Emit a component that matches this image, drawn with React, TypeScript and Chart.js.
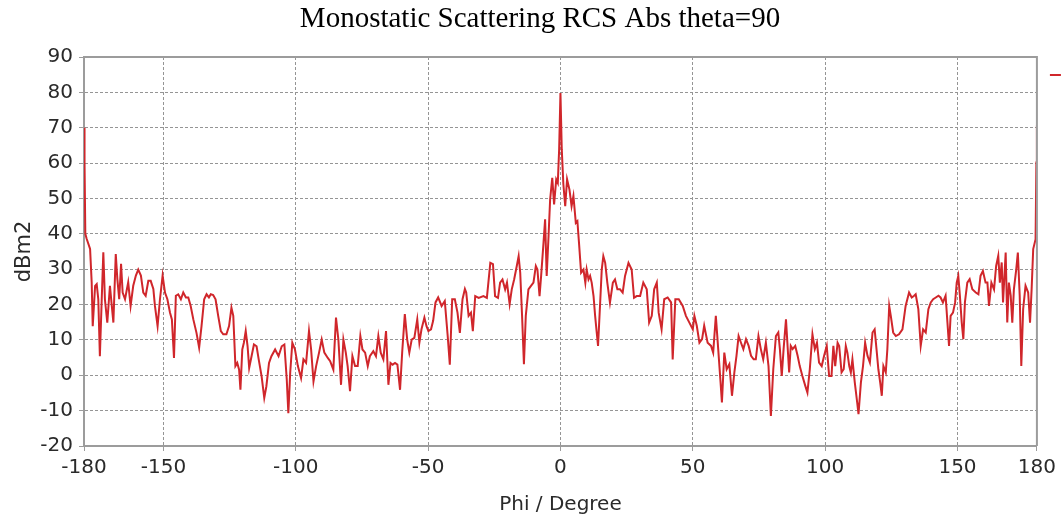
import { useEffect, useRef } from 'react';
import { Chart, registerables } from 'chart.js';

Chart.register(...registerables);

const TITLE = 'Monostatic Scattering RCS Abs theta=90';
const X_LABEL = 'Phi / Degree';
const Y_LABEL = 'dBm2';
const X_TICKS = [-180, -150, -100, -50, 0, 50, 100, 150, 180];
const Y_MIN = -20;
const Y_MAX = 90;
const Y_STEP = 10;
const LINE_COLOR = '#d0262b';

const PHI = [
  -180, -179.8, -179.5, -179.0, -177.7, -177.1, -176.7, -175.8, -175.2, -174.6, -174.0, -173.3, -172.7, -172.1,
  -171.2, -170.2, -169.5, -168.9, -168.0, -167.4, -166.7, -166.0, -165.4, -164.5, -163.3, -162.4, -161.4, -160.4,
  -159.5, -158.5, -157.6, -156.7, -155.7, -154.8, -153.8, -153.2, -152.2, -151.3, -150.3, -149.4, -148.5, -147.5,
  -146.8, -146.0, -145.3, -144.4, -143.4, -142.5, -141.5, -140.6, -139.7, -138.7, -137.5, -136.5, -135.6, -134.6,
  -133.7, -132.8, -132.1, -131.2, -130.3, -129.3, -128.3, -127.4, -126.2, -125.2, -124.3, -123.6, -122.8, -122.1,
  -121.4, -120.9, -120.2, -119.6, -118.9, -118.2, -117.6, -116.7, -115.8, -114.8, -114.0, -112.9, -111.9, -111.1,
  -110.1, -109.2, -107.8, -106.5, -105.3, -104.3, -103.4, -102.8, -102.1, -101.3, -100.3, -99.2, -98.0, -97.1,
  -96.1, -95.0, -94.2, -93.3, -92.3, -91.2, -90.2, -89.2, -87.9, -87.0, -85.8, -84.8, -83.9, -82.9, -82.0, -81.1,
  -80.4, -79.5, -78.6, -77.6, -76.6, -75.6, -74.8, -73.8, -72.8, -72.0, -70.7, -69.7, -68.8, -67.9, -66.9, -65.9,
  -65.0, -64.2, -63.4, -62.5, -61.6, -60.6, -59.8, -58.8, -57.9, -57.1, -56.2, -55.2, -54.1, -53.3, -52.5, -51.4,
  -50.6, -49.9, -48.9, -48.1, -47.2, -46.2, -44.9, -43.7, -42.6, -41.8, -40.9, -39.9, -38.9, -38.0, -37.0, -36.1,
  -35.6, -34.7, -33.8, -33.1, -32.2, -30.9, -29.1, -27.8, -26.5, -25.5, -24.7, -23.6, -22.8, -21.9, -20.9, -20.2,
  -19.2, -18.4, -17.5, -16.5, -15.8, -15.2, -14.5, -13.8, -13.1, -12.1, -11.2, -10.2, -9.3, -8.7, -7.9, -7.3,
  -6.4, -5.8, -5.2, -4.5, -3.9, -3.1, -2.4, -1.6, -1.0, -0.5, 0, 0.5, 1.1, 1.8, 2.5, 3.4, 4.2, 4.9, 5.8, 6.4,
  7.0, 7.8, 8.7, 9.4, 9.9, 10.6, 11.2, 11.8, 12.5, 13.1, 13.7, 14.2, 15.0, 15.6, 16.2, 16.9, 17.7, 18.7, 19.8,
  20.6, 21.5, 22.5, 23.5, 24.4, 25.7, 26.9, 27.8, 28.8, 30.1, 31.3, 32.6, 33.5, 34.5, 35.4, 36.4, 37.1, 38.2,
  39.2, 40.5, 41.8, 42.4, 43.4, 44.7, 46.2, 47.4, 48.7, 50.0, 50.6, 51.5, 52.5, 53.5, 54.3, 55.6, 56.9, 57.7,
  58.7, 59.6, 60.4, 61.0, 61.9, 62.8, 63.8, 64.8, 65.7, 66.5, 67.3, 68.2, 69.1, 70.1, 71.1, 72.0, 73.0, 73.8,
  74.8, 75.7, 76.6, 77.6, 78.6, 79.5, 80.4, 81.4, 82.3, 82.9, 83.6, 84.3, 85.2, 86.4, 87.0, 87.7, 88.7, 89.6,
  90.4, 91.4, 92.5, 93.3, 94.2, 95.2, 96.1, 96.9, 97.7, 98.7, 99.6, 100.6, 101.5, 102.4, 103.1, 103.8, 104.7,
  105.3, 106.2, 107.0, 107.8, 108.4, 109.1, 109.7, 110.3, 111.2, 112.1, 112.6, 113.5, 114.3, 115.1, 116.0,
  116.9, 117.9, 118.7, 119.4, 120.1, 120.8, 121.4, 122.0, 122.9, 123.5, 124.2, 124.8, 125.7, 126.7, 127.9,
  129.2, 130.4, 131.7, 132.7, 133.6, 134.2, 135.2, 136.1, 137.0, 138.0, 139.0, 139.9, 140.8, 141.8, 142.8,
  143.6, 144.5, 145.5, 146.2, 146.8, 147.4, 148.3, 149.1, 149.7, 150.3, 150.9, 151.6, 152.2, 152.8, 153.7,
  154.6, 155.6, 156.9, 157.9, 158.7, 159.6, 160.6, 161.3, 161.9, 162.8, 163.8, 164.6, 165.4, 166.0, 166.7,
  167.2, 168.2, 168.8, 169.4, 170.1, 170.7, 171.3, 172.2, 172.8, 173.5, 174.1, 174.8, 175.7, 176.7, 177.4,
  178.0, 178.6, 179.5, 179.8, 180,
];

const RCS = [
  70, 60, 40, 38.6, 35.7, 26.3, 13.9, 25.3, 25.8, 21.5, 5.4, 21.5, 34.8, 21.5,
  14.9, 25.3, 19.6, 14.9, 34.3, 27.2, 21.5, 31.5, 23.4, 21.5, 26.3, 19.6, 25.3, 28.2,
  29.9, 28.2, 23.4, 22.5, 26.7, 26.7, 24.4, 19.6, 13.9, 21.5, 28.2, 23.4, 21.5, 17.7,
  15.8, 4.9, 22.5, 22.9, 21.5, 23.4, 22.0, 22.0, 19.6, 15.8, 12.0, 7.8, 13.9, 21.5,
  22.9, 22.0, 22.9, 22.7, 21.5, 16.8, 12.5, 11.6, 11.6, 13.9, 19.1, 16.8, 2.6, 3.5,
  1.6, -4.1, 7.3, 9.2, 12.5, 8.2, 2.1, 5.4, 8.7, 8.2, 4.5, -0.3, -6.4, -3.1,
  3.5, 5.4, 7.3, 5.4, 8.2, 8.7, -1.2, -10.7, 0.7, 9.2, 7.3, 2.6, -0.8, 4.5,
  3.5, 12.5, 7.3, -1.7, 2.6, 6.4, 10.1, 6.4, 4.9, 4.0, 1.6, 16.3, 10.1, -2.7, 10.1, 6.4,
  2.6, -4.5, 5.4, 2.6, 2.6, 11.1, 7.3, 6.4, 2.6, 5.4, 6.8, 5.4, 11.1, 6.4, 4.5, 12.5,
  -2.7, 3.5, 3.0, 3.5, 3.0, -4.1, 6.4, 17.3, 10.1, 6.4, 10.1, 10.6, 15.8, 9.2, 13.0, 16.3,
  13.9, 12.5, 13.0, 15.4, 20.6, 22.0, 19.6, 21.0, 11.1, 3.0, 21.5, 21.5, 17.7, 12.0, 21.5, 24.4,
  23.4, 16.8, 17.7, 12.5, 22.4, 21.9, 22.4, 21.9, 31.8, 31.4, 22.4, 21.9, 26.2, 27.1, 24.3, 26.2,
  20.1, 24.3, 27.1, 30.9, 33.7, 29.0, 16.8, 3.1, 16.8, 24.3, 25.2, 26.2, 30.9, 29.9, 22.4, 28.1,
  37.5, 44.1, 28.1, 39.4, 49.7, 55.8, 48.3, 55.4, 54.4, 63.8, 79.8, 63.8, 54.0, 47.8, 55.4, 52.5, 47.8, 50.7, 43.1, 43.6,
  37.5, 29.0, 29.9, 26.2, 29.9, 27.1, 28.1, 26.2, 22.4, 16.8, 12.1, 8.3, 20.5, 29.9, 33.7, 31.8, 26.2, 20.5, 26.2,
  27.1, 24.3, 24.3, 23.4, 28.1, 31.8, 29.9, 21.9, 22.4, 22.4, 26.2, 24.3, 14.9, 16.8, 24.3, 26.2, 17.7, 13.0,
  21.5, 22.0, 20.6, 4.5, 21.5, 21.5, 19.6, 16.8, 14.9, 13.0, 16.8, 14.0, 9.2, 10.2, 14.0, 9.2, 8.3, 6.4,
  16.8, 7.4, -1.1, -7.7, 6.4, 1.7, 3.1, -5.8, 0.8, 5.5, 11.1, 9.2, 7.4, 10.2, 8.3, 5.5, 4.5, 4.5,
  11.1, 7.4, 4.5, 9.2, 2.6, -11.5, 1.7, 11.1, 12.1, 7.4, -0.2, 7.4, 15.8, 0.8, 8.3, 7.4, 8.3, 5.5,
  2.6, -0.2, -3.0, -4.9, 1.7, 11.6, 7.4, 9.2, 3.6, 2.6, 5.5, 8.3, -0.2, -0.2, 8.3, 2.6, 9.2,
  8.3, 0.8, 1.7, 8.3, 6.4, 2.6, 0.8, 4.5, -2.1, -7.7, -11.0, -2.1, 2.6, 9.2, 5.5,
  3.6, 12.1, 13.0, 7.4, 1.7, -2.1, -5.8, 2.6, 0.8, 7.4, 19.6, 16.8, 12.1, 11.1, 11.6,
  13.0, 19.6, 23.4, 22.0, 22.5, 22.9, 18.7, 8.3, 13.0, 12.1, 18.7, 20.6, 21.5, 22.0, 22.5,
  22.0, 20.6, 22.5, 14.9, 8.3, 16.8, 17.7, 20.6, 26.2, 28.1, 22.5, 14.9, 10.2, 20.6, 26.2,
  27.2, 24.3, 23.4, 22.9, 28.1, 29.5, 26.2, 26.2, 19.6, 26.2, 24.3, 30.9, 33.8, 26.2, 31.9,
  20.6, 34.7, 14.9, 26.2, 22.5, 14.9, 24.3, 30.0, 34.7, 22.5, 2.6, 18.7, 25.3, 23.4, 14.9,
  24.3, 35.7, 38.5, 60.2, 70.6,
];

const SERIES = PHI.map((x, i) => ({ x, y: RCS[i] }));

const framePlugin = {
  id: 'frame',
  afterDraw(chart: any) {
    const { ctx, chartArea: a } = chart;
    ctx.save();
    ctx.strokeStyle = '#9c9c9c';
    ctx.lineWidth = 2;
    ctx.beginPath();
    ctx.moveTo(a.left, a.top);
    ctx.lineTo(a.right, a.top);
    ctx.lineTo(a.right, a.bottom);
    ctx.stroke();
    // clipped legend sample at the right edge
    ctx.strokeStyle = LINE_COLOR;
    ctx.lineWidth = 2;
    ctx.beginPath();
    ctx.moveTo(a.right + 13, a.top + 18);
    ctx.lineTo(a.right + 24, a.top + 18);
    ctx.stroke();
    // chart title
    ctx.fillStyle = '#000';
    ctx.font = '29px "Liberation Serif"';
    ctx.textAlign = 'center';
    ctx.textBaseline = 'middle';
    ctx.fillText(TITLE, 540, 19);
    ctx.restore();
  },
};

export default function App() {
  const ref = useRef<HTMLCanvasElement>(null);
  useEffect(() => {
    const chart = new Chart(ref.current!, {
      type: 'line',
      data: {
        datasets: [
          {
            label: 'RCS',
            data: SERIES,
            borderColor: LINE_COLOR,
            borderWidth: 2,
            pointRadius: 0,
            tension: 0,
            fill: false,
          },
        ],
      },
      options: {
        responsive: false,
        animation: false,
        layout: { padding: { left: 0, right: 23, top: 57, bottom: 0 } },
        plugins: {
          legend: { display: false },
          tooltip: { enabled: false },
          title: { display: false },
        },
        scales: {
          x: {
            type: 'linear',
            min: -180,
            max: 180,
            afterBuildTicks: (scale: any) => {
              scale.ticks = X_TICKS.map((v) => ({ value: v }));
            },
            afterFit: (scale: any) => {
              scale.height = 79;
            },
            ticks: {
              autoSkip: false,
              maxRotation: 0,
              color: '#2a2a2a',
              padding: 5,
              font: { family: 'DejaVu Sans', size: 20 },
            },
            grid: { color: '#959595', lineWidth: 1, tickLength: 5, tickColor: '#9c9c9c' },
            border: { color: '#9c9c9c', width: 2, dash: [3, 2] },
            title: {
              display: true,
              text: X_LABEL,
              color: '#2a2a2a',
              font: { family: 'DejaVu Sans', size: 20 },
              padding: { top: 0, bottom: 8 },
            },
          },
          y: {
            min: Y_MIN,
            max: Y_MAX,
            afterFit: (scale: any) => {
              scale.width = 84;
            },
            ticks: {
              stepSize: Y_STEP,
              color: '#2a2a2a',
              padding: 6,
              font: { family: 'DejaVu Sans', size: 20 },
            },
            grid: { color: '#959595', lineWidth: 1, tickLength: 5, tickColor: '#9c9c9c' },
            border: { color: '#9c9c9c', width: 2, dash: [3, 2] },
            title: {
              display: true,
              text: Y_LABEL,
              color: '#2a2a2a',
              font: { family: 'DejaVu Sans', size: 21 },
              padding: { top: 12, bottom: 0 },
            },
          },
        },
      },
      plugins: [framePlugin],
    });
    return () => chart.destroy();
  }, []);
  return (
    <div style={{ position: 'fixed', left: 0, top: 0, width: 1061, height: 525, background: '#fff' }}>
      <canvas ref={ref} width={1061} height={525} style={{ display: 'block' }} />
    </div>
  );
}
